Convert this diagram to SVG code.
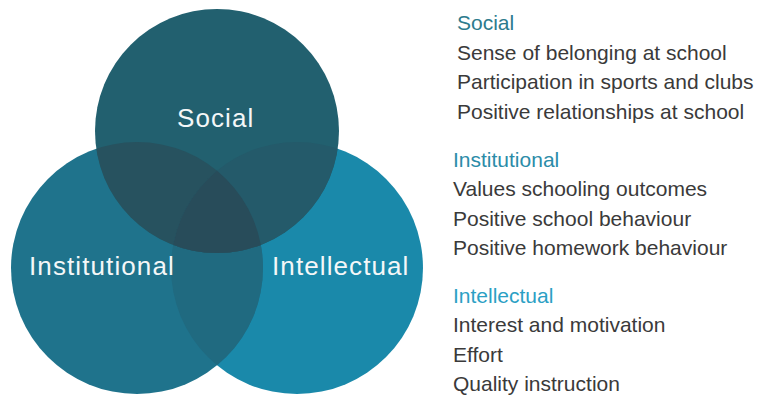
<svg xmlns="http://www.w3.org/2000/svg" width="758" height="399" viewBox="0 0 758 399">
<style>
.lbl{font-family:"Liberation Sans",Arial,sans-serif;font-size:26px;fill:#F4F7F8;letter-spacing:1.1px}
.hd{font-family:"Liberation Sans",Arial,sans-serif;font-size:21px}
.it{font-family:"Liberation Sans",Arial,sans-serif;font-size:21px;fill:#3A3A3A}
</style>
<defs>
<clipPath id="clipS"><circle cx="217" cy="131" r="122"/></clipPath>
<clipPath id="clipI"><circle cx="137" cy="268" r="126"/></clipPath>
</defs>
<rect width="758" height="399" fill="#FFFFFF"/>
<g id="venn">
<g id="intellectual">
<circle cx="297" cy="268" r="126" fill="#1A89AA"/>
</g>
<g id="institutional">
<circle cx="137" cy="268" r="126" fill="#1F738C"/>
<circle cx="297" cy="268" r="126" fill="#206A80" clip-path="url(#clipI)"/>
</g>
<g id="social">
<circle cx="217" cy="131" r="122" fill="#22606F"/>
<g clip-path="url(#clipS)">
<circle cx="137" cy="268" r="126" fill="#27525F"/>
<circle cx="297" cy="268" r="126" fill="#245A6A"/>
<circle cx="297" cy="268" r="126" fill="#284C5A" clip-path="url(#clipI)"/>
</g>
</g>
<text class="lbl" x="177" y="127">Social</text>
<text class="lbl" x="29" y="275">Institutional</text>
<text class="lbl" x="272" y="275">Intellectual</text>
</g>
<g id="legend-social">
<text class="hd" x="457" y="30" fill="#2D7B8D">Social</text>
<text class="it" x="457" y="59.5">Sense of belonging at school</text>
<text class="it" x="457" y="89">Participation in sports and clubs</text>
<text class="it" x="457" y="118.5">Positive relationships at school</text>
</g>
<g id="legend-institutional">
<text class="hd" x="453" y="166.5" fill="#2B8CA8">Institutional</text>
<text class="it" x="453" y="196">Values schooling outcomes</text>
<text class="it" x="453" y="225.5">Positive school behaviour</text>
<text class="it" x="453" y="255">Positive homework behaviour</text>
</g>
<g id="legend-intellectual">
<text class="hd" x="453" y="302.5" fill="#2BA0C4">Intellectual</text>
<text class="it" x="453" y="332">Interest and motivation</text>
<text class="it" x="453" y="361.5">Effort</text>
<text class="it" x="453" y="390.5">Quality instruction</text>
</g>
</svg>
